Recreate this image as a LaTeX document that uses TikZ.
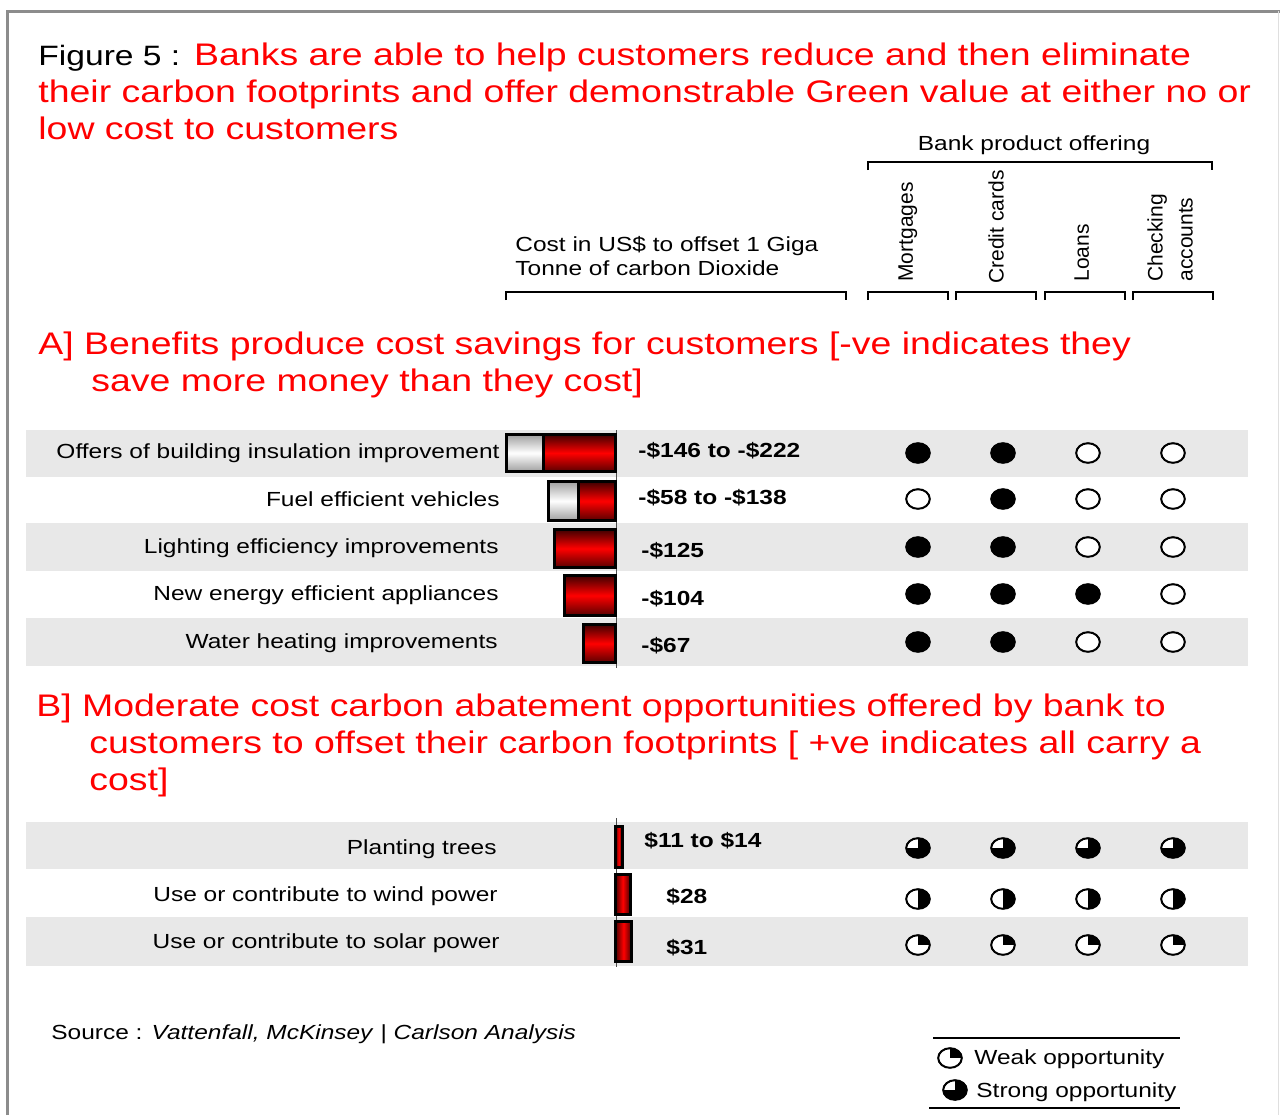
\documentclass[tikz,border=0pt]{standalone}
\usepackage{fontspec}
\setmainfont{Liberation Sans}[FakeStretch=1.2]
\newfontfamily\rotfont{Liberation Sans}
\usepackage{xcolor}
\usetikzlibrary{shapes.geometric}

\begin{document}
\begin{tikzpicture}[x=0.5pt,y=-0.5pt,
    titulo/.style={anchor=base west, inner sep=0, align=left, text=red, font=\fontsize{15.6}{18.3}\selectfont},
    texto/.style={inner sep=0, font=\fontsize{10.2}{12}\selectfont},
    rotulo/.style={texto, anchor=base east},
    valor/.style={texto, anchor=base west, font=\bfseries\fontsize{10.2}{12}\selectfont},
    coluna/.style={anchor=north west, inner sep=0, rotate=90, align=left, font=\rotfont\fontsize{10.5}{15}\selectfont},
    faixa/.style={fill=gray!18},
    chave/.style={line width=1pt},
    barra/.style={draw, line width=1.5pt, top color=red!25!black, bottom color=red!35!black, middle color=red},
    branca/.style={draw, line width=1.5pt, top color=gray!75, bottom color=gray!75, middle color=white},
    barrab/.style={draw, line width=1.5pt, left color=red!30!black, right color=red!30!black, middle color=red},
    bola/.style={ellipse, draw, line width=1pt, inner sep=0, minimum width=11.8pt, minimum height=9.8pt},
    cheio/.style={bola, fill=black},
    vazio/.style={bola, fill=white},
    forte/.style={bola, fill=black, path picture={\fill[white] (path picture bounding box.center) rectangle (path picture bounding box.north west);}},
    meio/.style={bola, fill=white, path picture={\fill[black] (path picture bounding box.south) rectangle (path picture bounding box.north east);}},
    fraco/.style={bola, fill=white, path picture={\fill[black] (path picture bounding box.center) rectangle (path picture bounding box.north east);}}]

    \useasboundingbox (0,0) rectangle (1280,1115);
    % moldura
    \draw[gray!90, line width=1.5pt] (7,1115) -- (7,11) -- (1280,11);
    \draw[gray!25, line width=0.5pt] (1278.5,11) -- (1278.5,1115);

    % titulo
    \node at (38,139) (titulo) [titulo] {\textcolor{black}{\fontsize{14}{18.3}\selectfont Figure 5 :} Banks are able to help customers reduce and then eliminate\\their carbon footprints and offer demonstrable Green value at either no or\\low cost to customers};

    % cabecalhos
    \node at (1034,150) (oferta) [texto, anchor=base] {Bank product offering};
    \draw[chave] (868,170) -- (868,162) -- (1212,162) -- (1212,170);
    \node at (515,275) (custo) [texto, anchor=base west, align=left] {Cost in US\$ to offset 1 Giga\\Tonne of carbon Dioxide};
    \node at (898,282) (col1) [coluna] {Mortgages};
    \node at (988,284) (col2) [coluna] {Credit cards};
    \node at (1074,282) (col3) [coluna] {Loans};
    \node at (1147,282) (col4) [coluna] {Checking\\accounts};
    \draw[chave] (506,300) -- (506,292) -- (846,292) -- (846,300);
    \draw[chave] (868,300) -- (868,292) -- (948,292) -- (948,300);
    \draw[chave] (956,300) -- (956,292) -- (1036,292) -- (1036,300);
    \draw[chave] (1045,300) -- (1045,292) -- (1125,292) -- (1125,300);
    \draw[chave] (1133,300) -- (1133,292) -- (1213,292) -- (1213,300);

    % Parte A
    \node at (38,391) (secA) [titulo] {A] Benefits produce cost savings for customers [-ve indicates they\\\hspace*{26.5pt}save more money than they cost]};
    \fill[faixa] (26,430) rectangle (1248,477);
    \fill[faixa] (26,523) rectangle (1248,571);
    \fill[faixa] (26,618) rectangle (1248,666);
    \draw[gray!60!black, line width=0.4pt] (616,430) -- (616,668);

    \node at (500,458) (a1) [rotulo] {Offers of building insulation improvement};
    \node at (500,506) (a2) [rotulo] {Fuel efficient vehicles};
    \node at (499,553) (a3) [rotulo] {Lighting efficiency improvements};
    \node at (499,600) (a4) [rotulo] {New energy efficient appliances};
    \node at (498,648) (a5) [rotulo] {Water heating improvements};

    \draw[branca] (506.5,434.5) rectangle (543,471.5);
    \draw[barra] (543,434.5) rectangle (615.5,471.5);
    \draw[branca] (548.5,481.5) rectangle (578,520.5);
    \draw[barra] (578,481.5) rectangle (615.5,520.5);
    \draw[barra] (554.5,529.5) rectangle (615.5,567.5);
    \draw[barra] (564.5,575.5) rectangle (615.5,615.5);
    \draw[barra] (583.5,624.5) rectangle (615.5,662.5);

    \node at (638,457) (v1) [valor] {-\$146 to -\$222};
    \node at (638,504) (v2) [valor] {-\$58 to -\$138};
    \node at (641,557) (v3) [valor] {-\$125};
    \node at (641,605) (v4) [valor] {-\$104};
    \node at (641,652) (v5) [valor] {-\$67};

    \node at (918,453) (a1m) [cheio] {}; \node at (1003,453) (a1c) [cheio] {}; \node at (1088,453) (a1l) [vazio] {}; \node at (1173,453) (a1k) [vazio] {};
    \node at (918,499) (a2m) [vazio] {}; \node at (1003,499) (a2c) [cheio] {}; \node at (1088,499) (a2l) [vazio] {}; \node at (1173,499) (a2k) [vazio] {};
    \node at (918,547) (a3m) [cheio] {}; \node at (1003,547) (a3c) [cheio] {}; \node at (1088,547) (a3l) [vazio] {}; \node at (1173,547) (a3k) [vazio] {};
    \node at (918,594) (a4m) [cheio] {}; \node at (1003,594) (a4c) [cheio] {}; \node at (1088,594) (a4l) [cheio] {}; \node at (1173,594) (a4k) [vazio] {};
    \node at (918,642) (a5m) [cheio] {}; \node at (1003,642) (a5c) [cheio] {}; \node at (1088,642) (a5l) [vazio] {}; \node at (1173,642) (a5k) [vazio] {};

    % Parte B
    \node at (36,790) (secB) [titulo] {B] Moderate cost carbon abatement opportunities offered by bank to\\\hspace*{26.5pt}customers to offset their carbon footprints [ +ve indicates all carry a\\\hspace*{26.5pt}cost]};
    \fill[faixa] (26,822) rectangle (1248,869);
    \fill[faixa] (26,917) rectangle (1248,966);
    \draw[gray!60!black, line width=0.4pt] (616,818) -- (616,967);

    \node at (497,854) (b1) [rotulo] {Planting trees};
    \node at (498,901) (b2) [rotulo] {Use or contribute to wind power};
    \node at (500,948) (b3) [rotulo] {Use or contribute to solar power};

    \draw[barrab] (615.5,826.5) rectangle (622,867.5);
    \draw[barrab] (615.5,874.5) rectangle (630,914.5);
    \draw[barrab] (615.5,921.5) rectangle (631.5,961.5);

    \node at (644,847) (w1) [valor] {\$11 to \$14};
    \node at (666,903) (w2) [valor] {\$28};
    \node at (666,954) (w3) [valor] {\$31};

    \node at (918,848) (b1m) [forte] {}; \node at (1003,848) (b1c) [forte] {}; \node at (1088,848) (b1l) [forte] {}; \node at (1173,848) (b1k) [forte] {};
    \node at (918,899) (b2m) [meio] {}; \node at (1003,899) (b2c) [meio] {}; \node at (1088,899) (b2l) [meio] {}; \node at (1173,899) (b2k) [meio] {};
    \node at (918,945) (b3m) [fraco] {}; \node at (1003,945) (b3c) [fraco] {}; \node at (1088,945) (b3l) [fraco] {}; \node at (1173,945) (b3k) [fraco] {};

    % fonte e legenda
    \node at (51,1039) (fonte) [texto, anchor=base west] {Source : \textit{Vattenfall, McKinsey} | \textit{Carlson Analysis}};
    \draw[line width=0.8pt] (933,1038) -- (1180,1038);
    \node at (950,1058) (lfraco) [fraco] {};
    \node at (974,1064) (lfracot) [texto, anchor=base west] {Weak opportunity};
    \node at (955,1090) (lforte) [forte] {};
    \node at (976,1097) (lfortet) [texto, anchor=base west] {Strong opportunity};
    \draw[line width=0.8pt] (929,1108) -- (1180,1108);
\end{tikzpicture}
\end{document}
